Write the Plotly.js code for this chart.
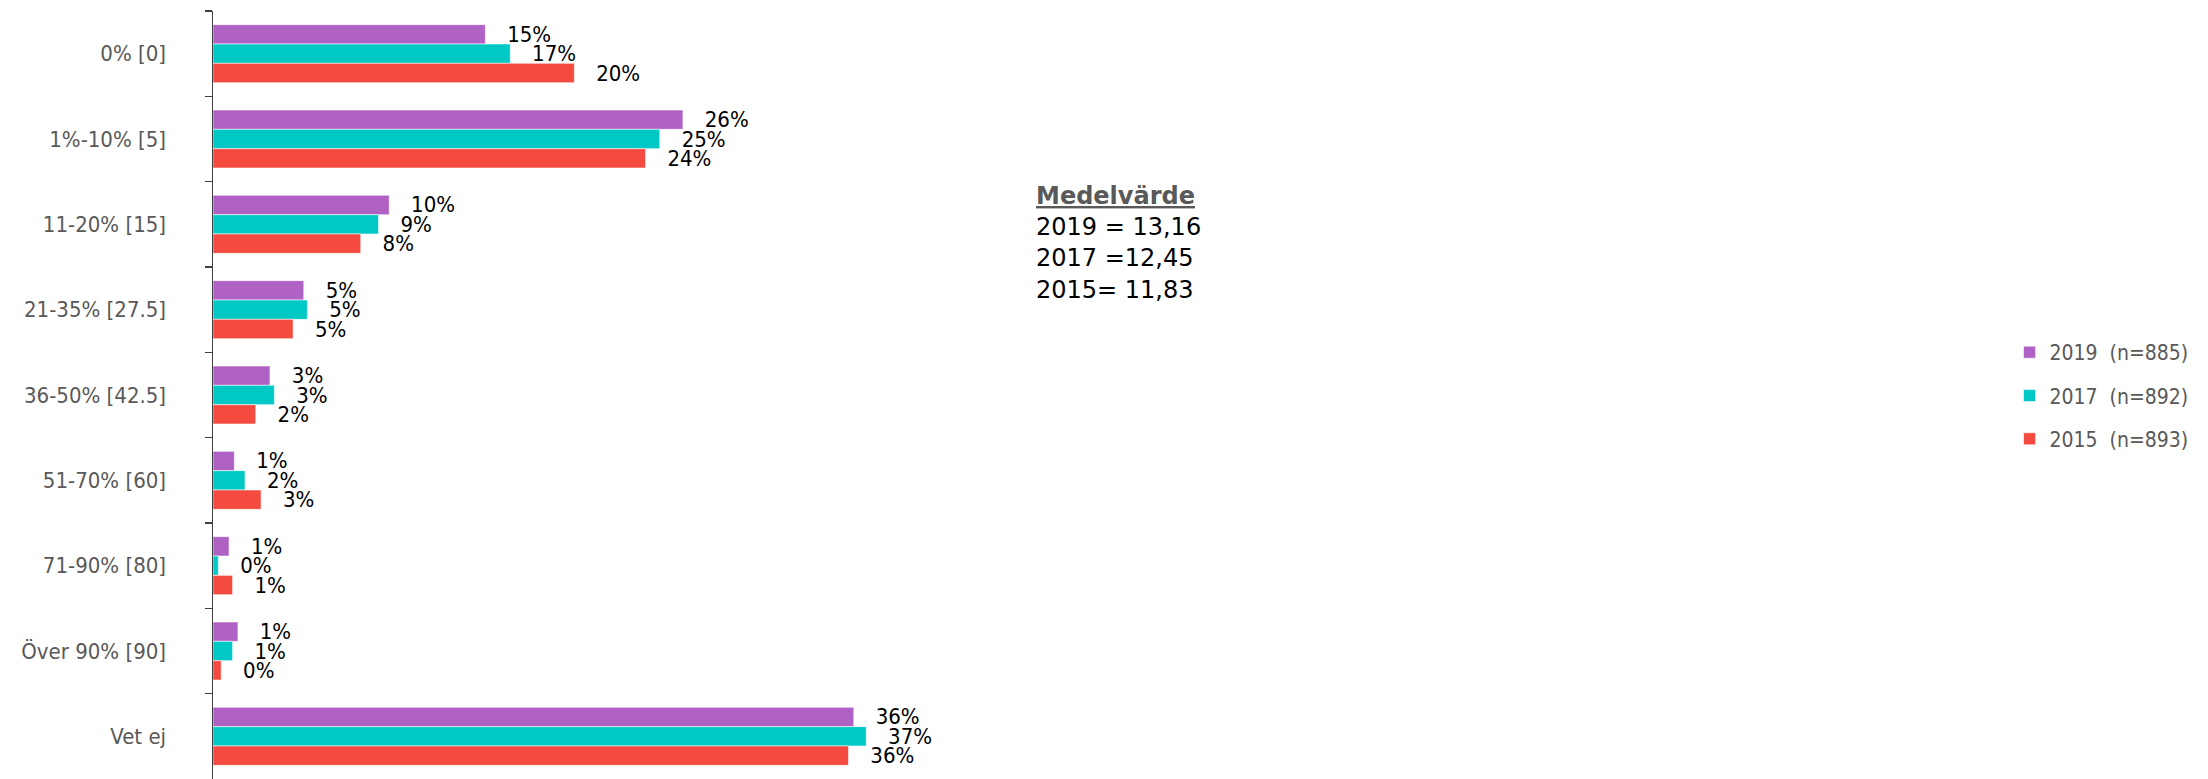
<!DOCTYPE html>
<html>
<head>
<meta charset="utf-8">
<script src="https://cdn.plot.ly/plotly-3.0.1.min.js"></script>
<style>
  html, body { margin: 0; padding: 0; background: #ffffff; }
  #chart { width: 2208px; height: 779px; }
</style>
</head>
<body>
<div id="chart"></div>
<script>
// Categories (top to bottom)
const categories = ["0% [0]", "1%-10% [5]", "11-20% [15]", "21-35% [27.5]", "36-50% [42.5]", "51-70% [60]", "71-90% [80]", "Över 90% [90]", "Vet ej"];

// Series values (percent)
const values2019 = [15.3, 26.4, 9.9, 5.1, 3.2, 1.2, 0.9, 1.4, 36.0];
const values2017 = [16.7, 25.1, 9.3, 5.3, 3.45, 1.8, 0.3, 1.1, 36.7];
const values2015 = [20.3, 24.3, 8.3, 4.5, 2.4, 2.7, 1.1, 0.46, 35.7];

const seriesNames = ["2019  (n=885)", "2017  (n=892)", "2015  (n=893)"];
const seriesColors = ["#B062C4", "#00C8C4", "#F44A40"];

const meanTitle = "Medelvärde";
const meanLines = ["2019 = 13,16", "2017 =12,45", "2015= 11,83"];

const labelFont = "'DejaVu Sans Condensed', 'DejaVu Sans', sans-serif";
const axisFont = "'DejaVu Sans Condensed', 'DejaVu Sans', sans-serif";

const seriesValues = [values2019, values2017, values2015];
const traces = seriesValues.map((vals, i) => ({
  type: "bar",
  orientation: "h",
  name: seriesNames[i],
  legendgroup: "g" + i,
  x: vals,
  y: categories,
  marker: { color: seriesColors[i], line: { color: "rgba(255,255,255,0.55)", width: 1 } },
  texttemplate: "\u00a0\u00a0\u00a0%{x:.0f}%",
  textposition: "outside",
  constraintext: "none",
  cliponaxis: false,
  textfont: { family: labelFont, size: 22, color: "#000000" },
  hoverinfo: "skip"
}));

const layout = {
  width: 2208,
  height: 779,
  margin: { l: 213, r: 215, t: 11, b: 0, pad: 0 },
  paper_bgcolor: "#ffffff",
  plot_bgcolor: "#ffffff",
  barmode: "group",
  bargap: 0.32,
  bargroupgap: 0,
  showlegend: true,
  legend: {
    x: 1.0093, xanchor: "left",
    y: 0.582, yanchor: "top",
    font: { family: axisFont, size: 21, color: "#595959" },
    tracegroupgap: 13,
    itemwidth: 30,
    bgcolor: "rgba(0,0,0,0)"
  },
  xaxis: {
    range: [0, 100],
    visible: false,
    showgrid: false,
    zeroline: false,
    fixedrange: true
  },
  yaxis: {
    type: "category",
    autorange: "reversed",
    showline: true,
    linecolor: "#404040",
    linewidth: 1.5,
    ticks: "outside",
    tickson: "boundaries",
    ticklen: 7,
    tickwidth: 1.5,
    tickcolor: "#404040",
    ticklabelstandoff: 41,
    tickfont: { family: axisFont, size: 22, color: "#595959" },
    showgrid: false,
    zeroline: false,
    fixedrange: true
  },
  annotations: [{
    xref: "paper", yref: "paper",
    x: 0.4612, y: 0.7805,
    xanchor: "left", yanchor: "top",
    align: "left",
    showarrow: false,
    font: { family: "'DejaVu Sans', sans-serif", size: 24, color: "#000000" },
    text: "<span style='color:#595959'><b><u>" + meanTitle + "</u></b></span><br>" + meanLines.join("<br>")
  }]
};

Plotly.newPlot("chart", traces, layout, { displayModeBar: false, staticPlot: true });
</script>
</body>
</html>
